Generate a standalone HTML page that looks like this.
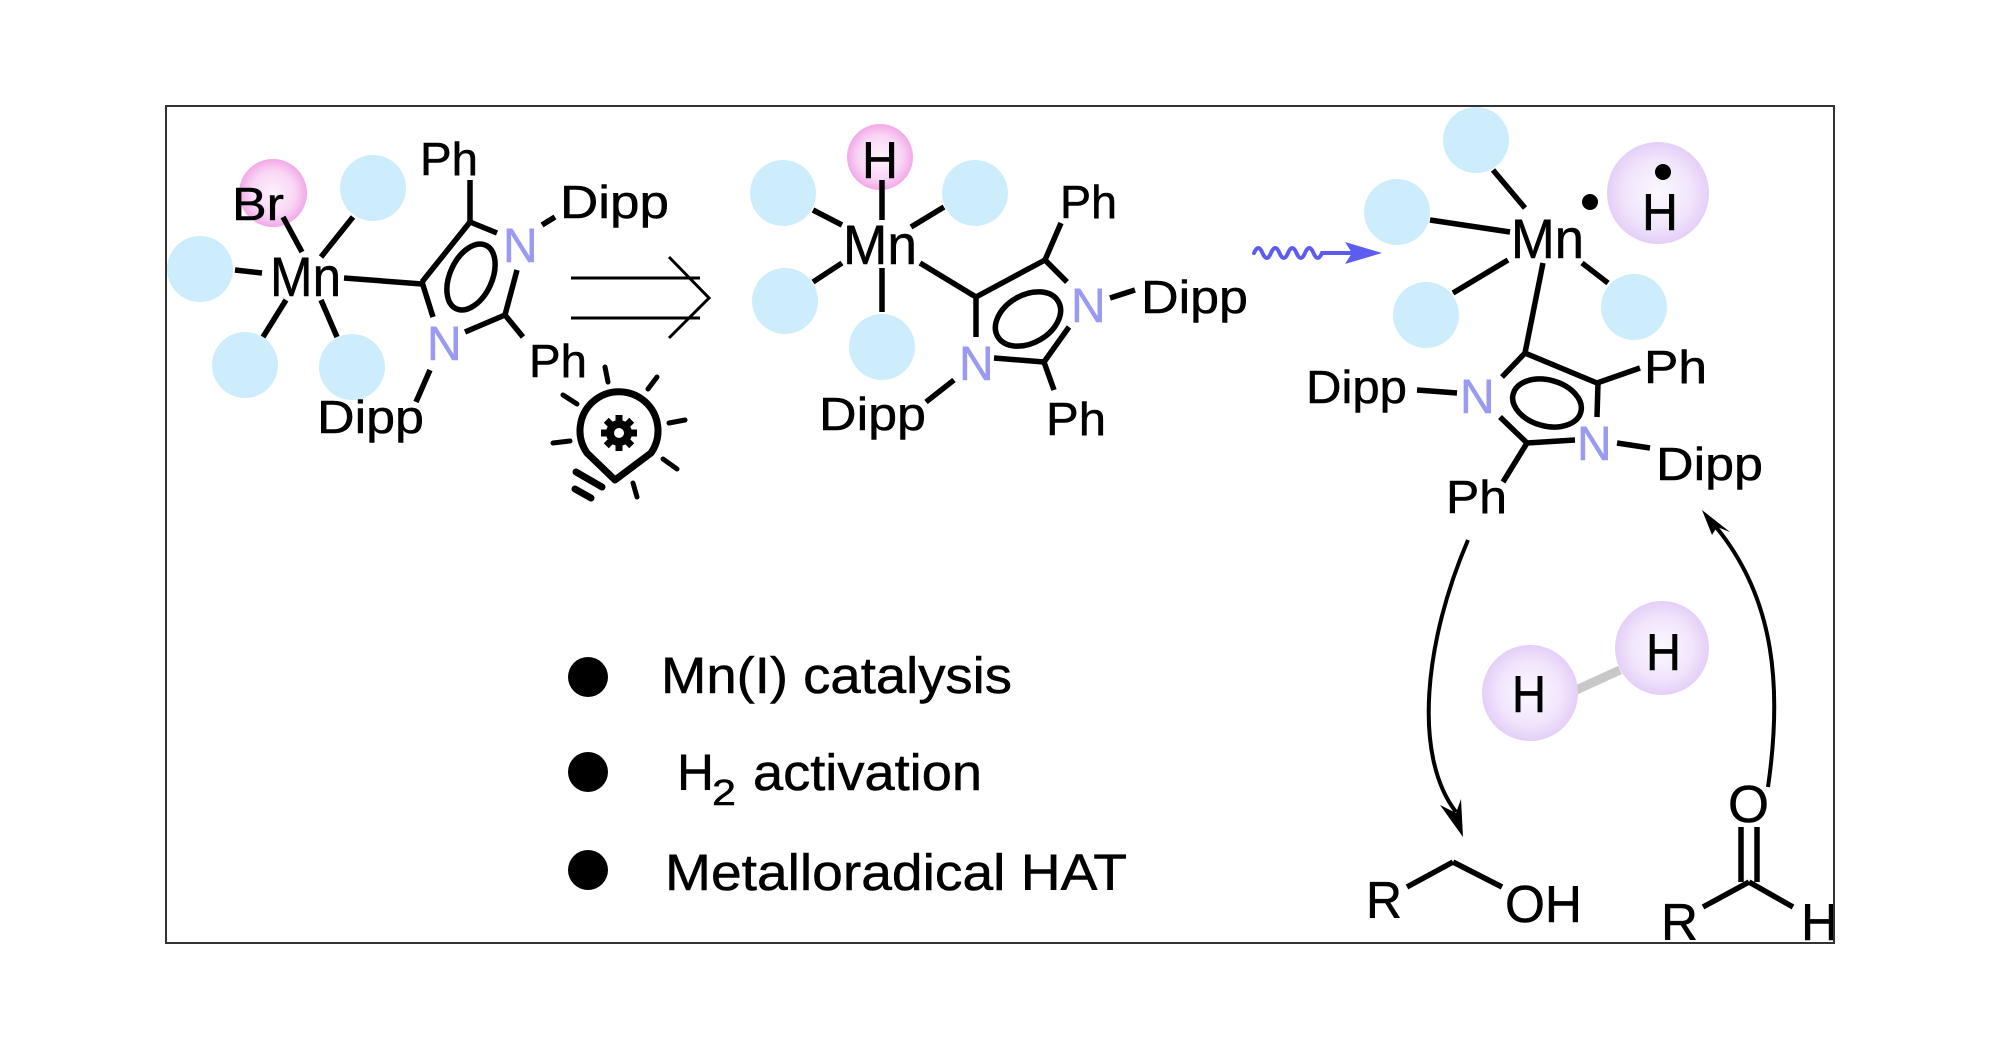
<!DOCTYPE html>
<html>
<head>
<meta charset="utf-8">
<style>
html,body{margin:0;padding:0;background:#fff;}
svg{display:block;}
text{font-family:"Liberation Sans",Arial,sans-serif;fill:#000;stroke:#000;stroke-width:0.5;}
.n{fill:#9a9af2;stroke:#9a9af2;}
</style>
</head>
<body>
<svg width="2000" height="1046" viewBox="0 0 2000 1046" xmlns="http://www.w3.org/2000/svg">
<defs>
<radialGradient id="pk" cx="50%" cy="50%" r="50%">
<stop offset="0%" stop-color="#fdf2fc"/>
<stop offset="65%" stop-color="#f9d6f5"/>
<stop offset="100%" stop-color="#f2a9e8"/>
</radialGradient>
<radialGradient id="pu" cx="50%" cy="50%" r="50%">
<stop offset="0%" stop-color="#fcf8ff"/>
<stop offset="65%" stop-color="#f1e5fc"/>
<stop offset="100%" stop-color="#e4cff7"/>
</radialGradient>
<clipPath id="bx"><rect x="167" y="107" width="1666" height="835"/></clipPath>
</defs>
<rect x="0" y="0" width="2000" height="1046" fill="#fff"/>

<g clip-path="url(#bx)">
<!-- ===== Complex 1 ===== -->
<g fill="#cdedfc">
<circle cx="200" cy="269" r="33"/>
<circle cx="373" cy="188" r="33"/>
<circle cx="245" cy="365" r="33"/>
<circle cx="352" cy="367" r="33"/>
</g>
<circle cx="273" cy="193" r="34" fill="url(#pk)"/>
<g stroke="#000" stroke-width="5.5" fill="none" stroke-linecap="butt">
<line x1="235" y1="270" x2="262" y2="273"/>
<line x1="283" y1="217" x2="302" y2="252"/>
<line x1="353" y1="217" x2="321" y2="257"/>
<line x1="286" y1="300" x2="263" y2="337"/>
<line x1="321" y1="300" x2="337" y2="337"/>
<line x1="344" y1="278" x2="422" y2="284"/>
<line x1="422" y1="282" x2="470" y2="222"/>
<line x1="470" y1="222" x2="497" y2="233"/>
<line x1="517" y1="270" x2="505" y2="315"/>
<line x1="505" y1="315" x2="465" y2="332"/>
<line x1="433" y1="317" x2="422" y2="282"/>
<line x1="470" y1="180" x2="470" y2="222"/>
<line x1="542" y1="225" x2="555" y2="217"/>
<line x1="505" y1="315" x2="523" y2="337"/>
<line x1="430" y1="370" x2="416" y2="402"/>
<ellipse cx="471" cy="277" rx="35" ry="21" transform="rotate(-65 471 277)"/>
</g>
<text x="232" y="220" font-size="46" textLength="52" lengthAdjust="spacingAndGlyphs">Br</text>
<text x="270" y="296" font-size="56" textLength="71" lengthAdjust="spacingAndGlyphs">Mn</text>
<text class="n" x="503" y="262" font-size="48">N</text>
<text class="n" x="427" y="360" font-size="48">N</text>
<text x="420" y="175" font-size="46" textLength="58" lengthAdjust="spacingAndGlyphs">Ph</text>
<text x="560" y="218" font-size="46" textLength="109" lengthAdjust="spacingAndGlyphs">Dipp</text>
<text x="529" y="377" font-size="46" textLength="58" lengthAdjust="spacingAndGlyphs">Ph</text>
<text x="317" y="433" font-size="46" textLength="107" lengthAdjust="spacingAndGlyphs">Dipp</text>

<!-- double arrow -->
<g stroke="#000" stroke-width="3" fill="none">
<line x1="571" y1="278" x2="700" y2="278"/>
<line x1="571" y1="318" x2="700" y2="318"/>
<polyline points="669,257 709,298 669,338"/>
</g>

<!-- light bulb -->
<g stroke="#000" fill="none" stroke-linecap="round">
<path d="M587,453 A39,39 0 1 1 651,453 L615,480 Z" stroke-width="7" stroke-linejoin="round"/>
<line x1="576" y1="472" x2="602" y2="487" stroke-width="7"/>
<line x1="575" y1="489" x2="591" y2="498" stroke-width="7"/>
<g stroke-width="5">
<line x1="605" y1="367" x2="608" y2="382"/>
<line x1="657" y1="377" x2="648" y2="389"/>
<line x1="669" y1="423" x2="685" y2="420"/>
<line x1="663" y1="459" x2="677" y2="469"/>
<line x1="633" y1="483" x2="637" y2="497"/>
<line x1="553" y1="443" x2="570" y2="441"/>
<line x1="563" y1="395" x2="577" y2="404"/>
</g>
</g>
<g transform="translate(619 433)">
<circle r="13" fill="#000"/>
<g fill="#000">
<rect x="-3.5" y="-18" width="7" height="8"/>
<rect x="-3.5" y="-18" width="7" height="8" transform="rotate(45)"/>
<rect x="-3.5" y="-18" width="7" height="8" transform="rotate(90)"/>
<rect x="-3.5" y="-18" width="7" height="8" transform="rotate(135)"/>
<rect x="-3.5" y="-18" width="7" height="8" transform="rotate(180)"/>
<rect x="-3.5" y="-18" width="7" height="8" transform="rotate(225)"/>
<rect x="-3.5" y="-18" width="7" height="8" transform="rotate(270)"/>
<rect x="-3.5" y="-18" width="7" height="8" transform="rotate(315)"/>
</g>
<circle r="5" fill="#fff"/>
</g>

<!-- ===== Complex 2 ===== -->
<g fill="#cdedfc">
<circle cx="783" cy="193" r="33"/>
<circle cx="975" cy="193" r="33"/>
<circle cx="785" cy="301" r="33"/>
<circle cx="882" cy="347" r="33"/>
</g>
<circle cx="880" cy="157" r="33" fill="url(#pk)"/>
<g stroke="#000" stroke-width="5.5" fill="none">
<line x1="882" y1="180" x2="882" y2="220"/>
<line x1="813" y1="210" x2="842" y2="225"/>
<line x1="944" y1="207" x2="911" y2="227"/>
<line x1="842" y1="263" x2="813" y2="282"/>
<line x1="882" y1="268" x2="882" y2="312"/>
<line x1="920" y1="263" x2="976" y2="297"/>
<line x1="976" y1="297" x2="1045" y2="260"/>
<line x1="1045" y1="260" x2="1067" y2="282"/>
<line x1="1069" y1="327" x2="1044" y2="362"/>
<line x1="1044" y1="362" x2="994" y2="358"/>
<line x1="976" y1="337" x2="976" y2="297"/>
<line x1="1045" y1="260" x2="1061" y2="223"/>
<line x1="1110" y1="298" x2="1135" y2="290"/>
<line x1="1044" y1="362" x2="1054" y2="390"/>
<line x1="954" y1="380" x2="926" y2="402"/>
<ellipse cx="1028" cy="319" rx="35" ry="24" transform="rotate(-30 1028 319)"/>
</g>
<text x="862" y="178" font-size="52" textLength="36" lengthAdjust="spacingAndGlyphs">H</text>
<text x="843" y="264" font-size="56" textLength="74" lengthAdjust="spacingAndGlyphs">Mn</text>
<text class="n" x="1071" y="322" font-size="48">N</text>
<text class="n" x="959" y="380" font-size="48">N</text>
<text x="1060" y="218" font-size="46" textLength="57" lengthAdjust="spacingAndGlyphs">Ph</text>
<text x="1141" y="313" font-size="46" textLength="107" lengthAdjust="spacingAndGlyphs">Dipp</text>
<text x="1046" y="435" font-size="46" textLength="60" lengthAdjust="spacingAndGlyphs">Ph</text>
<text x="819" y="430" font-size="46" textLength="107" lengthAdjust="spacingAndGlyphs">Dipp</text>

<!-- squiggle arrow -->
<path d="M1254,253 Q1258.25,243 1262.5,253 T1271,253 T1279.5,253 T1288,253 T1296.5,253 T1305,253 T1313.5,253 T1322,253 L1352,253" stroke="#5c5cf0" stroke-width="4" fill="none" stroke-linecap="round"/>
<polygon points="1382,253 1345,242 1352,253 1345,264" fill="#5c5cf0"/>

<!-- ===== Complex 3 ===== -->
<g fill="#cdedfc">
<circle cx="1476" cy="140" r="33"/>
<circle cx="1397" cy="212" r="33"/>
<circle cx="1426" cy="315" r="33"/>
<circle cx="1634" cy="307" r="33"/>
</g>
<circle cx="1658" cy="193" r="51" fill="url(#pu)"/>
<g stroke="#000" stroke-width="5.5" fill="none">
<line x1="1493" y1="170" x2="1525" y2="208"/>
<line x1="1430" y1="220" x2="1510" y2="232"/>
<line x1="1453" y1="293" x2="1508" y2="260"/>
<line x1="1582" y1="263" x2="1608" y2="283"/>
<line x1="1543" y1="263" x2="1525" y2="353"/>
<line x1="1525" y1="353" x2="1502" y2="377"/>
<line x1="1500" y1="417" x2="1527" y2="443"/>
<line x1="1527" y1="443" x2="1575" y2="440"/>
<line x1="1597" y1="417" x2="1598" y2="383"/>
<line x1="1525" y1="353" x2="1597" y2="383"/>
<line x1="1597" y1="383" x2="1640" y2="368"/>
<line x1="1417" y1="390" x2="1457" y2="393"/>
<line x1="1617" y1="443" x2="1650" y2="448"/>
<line x1="1527" y1="443" x2="1503" y2="482"/>
<ellipse cx="1547" cy="403" rx="35" ry="23" transform="rotate(15 1547 403)"/>
</g>
<circle cx="1663" cy="172" r="8" fill="#000"/>
<circle cx="1590" cy="202" r="8" fill="#000"/>
<text x="1642" y="230" font-size="52" textLength="36" lengthAdjust="spacingAndGlyphs">H</text>
<text x="1511" y="258" font-size="56" textLength="73" lengthAdjust="spacingAndGlyphs">Mn</text>
<text class="n" x="1460" y="413" font-size="48">N</text>
<text class="n" x="1577" y="460" font-size="48">N</text>
<text x="1644" y="383" font-size="46" textLength="63" lengthAdjust="spacingAndGlyphs">Ph</text>
<text x="1306" y="403" font-size="46" textLength="101" lengthAdjust="spacingAndGlyphs">Dipp</text>
<text x="1656" y="480" font-size="46" textLength="107" lengthAdjust="spacingAndGlyphs">Dipp</text>
<text x="1446" y="513" font-size="46" textLength="61" lengthAdjust="spacingAndGlyphs">Ph</text>

<!-- curved arrows -->
<path d="M1468,540 C1425,640 1412,755 1456,812" stroke="#000" stroke-width="4" fill="none"/>
<polygon points="1463,837 1440,805 1456,813 1461,799" fill="#000"/>
<path d="M1768,787 C1782,690 1776,600 1716,527" stroke="#000" stroke-width="4" fill="none"/>
<polygon points="1702,510 1712,535 1717,527 1730,532" fill="#000"/>

<!-- H2 -->
<line x1="1574" y1="691" x2="1620" y2="670" stroke="#c8c8c8" stroke-width="9"/>
<circle cx="1530" cy="693" r="48" fill="url(#pu)"/>
<circle cx="1662" cy="648" r="47" fill="url(#pu)"/>
<text x="1512" y="712" font-size="52" textLength="34" lengthAdjust="spacingAndGlyphs">H</text>
<text x="1646" y="670" font-size="52" textLength="35" lengthAdjust="spacingAndGlyphs">H</text>

<!-- alcohol / aldehyde -->
<g stroke="#000" stroke-width="5.5" fill="none">
<line x1="1407" y1="887" x2="1453" y2="862"/>
<line x1="1453" y1="862" x2="1502" y2="887"/>
<line x1="1741" y1="827" x2="1741" y2="882"/>
<line x1="1757" y1="827" x2="1757" y2="882"/>
<line x1="1749" y1="882" x2="1703" y2="907"/>
<line x1="1749" y1="882" x2="1793" y2="907"/>
</g>
<text x="1366" y="918" font-size="52" textLength="36" lengthAdjust="spacingAndGlyphs">R</text>
<text x="1505" y="922" font-size="52" textLength="77" lengthAdjust="spacingAndGlyphs">OH</text>
<text x="1728" y="822" font-size="52" textLength="41" lengthAdjust="spacingAndGlyphs">O</text>
<text x="1661" y="940" font-size="52" textLength="37" lengthAdjust="spacingAndGlyphs">R</text>
<text x="1801" y="940" font-size="52" textLength="37" lengthAdjust="spacingAndGlyphs">H</text>

<!-- bullets -->
<circle cx="588" cy="677" r="20" fill="#000"/>
<circle cx="588" cy="772" r="20" fill="#000"/>
<circle cx="588" cy="870" r="20" fill="#000"/>
<text x="661" y="693" font-size="51" textLength="351" lengthAdjust="spacingAndGlyphs">Mn(I) catalysis</text>
<text x="677" y="790" font-size="51" textLength="37" lengthAdjust="spacingAndGlyphs">H</text>
<text x="712" y="805" font-size="36" textLength="24" lengthAdjust="spacingAndGlyphs">2</text>
<text x="753" y="790" font-size="51" textLength="229" lengthAdjust="spacingAndGlyphs">activation</text>
<text x="665" y="890" font-size="51" textLength="462" lengthAdjust="spacingAndGlyphs">Metalloradical HAT</text>
</g>

<!-- frame -->
<rect x="166" y="106" width="1668" height="837" fill="none" stroke="#333" stroke-width="2"/>
</svg>
</body>
</html>
